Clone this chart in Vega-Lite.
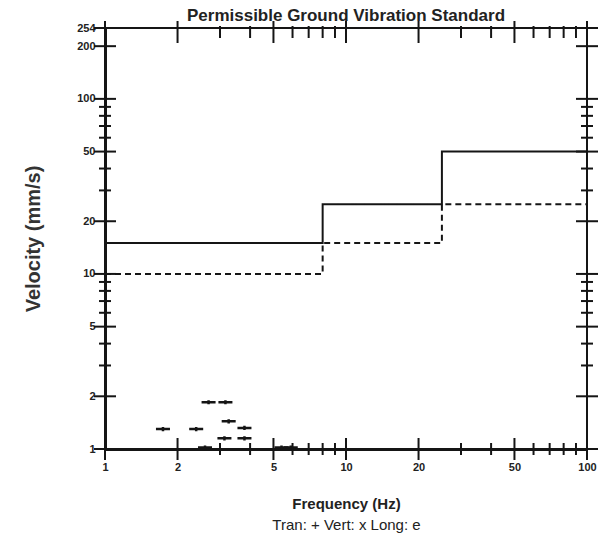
{
  "$schema": "https://vega.github.io/schema/vega-lite/v6.json",
  "width": 482,
  "height": 421,
  "autosize": {"type": "none"},
  "padding": {"left": 105, "top": 28, "right": 28, "bottom": 103},
  "background": "white",
  "config": {
    "view": {"stroke": "#151515", "strokeWidth": 2},
    "font": "Liberation Sans"
  },
  "title": {
    "text": "Permissible Ground Vibration Standard",
    "fontSize": 17,
    "fontWeight": "bold",
    "color": "#222",
    "anchor": "middle",
    "baseline": "alphabetic",
    "offset": 3,
    "dy": 20
  },
  "datasets": {
    "steps": [
      {"freq": 1, "vel": 15, "limit": "solid"},
      {"freq": 8, "vel": 25, "limit": "solid"},
      {"freq": 25, "vel": 50, "limit": "solid"},
      {"freq": 100, "vel": 50, "limit": "solid"},
      {"freq": 1, "vel": 10, "limit": "dashed"},
      {"freq": 8, "vel": 15, "limit": "dashed"},
      {"freq": 25, "vel": 25, "limit": "dashed"},
      {"freq": 100, "vel": 25, "limit": "dashed"}
    ],
    "points": [
      {"freq": 1.74, "vel": 1.3},
      {"freq": 2.39, "vel": 1.3},
      {"freq": 2.69, "vel": 1.85},
      {"freq": 3.16, "vel": 1.85},
      {"freq": 3.26, "vel": 1.44},
      {"freq": 3.13, "vel": 1.15},
      {"freq": 3.79, "vel": 1.32},
      {"freq": 3.79, "vel": 1.15},
      {"freq": 2.6, "vel": 1.02},
      {"freq": 5.4, "vel": 1.02},
      {"freq": 5.9, "vel": 1.02}
    ],
    "xticks": [
      {"v": 1, "kind": "major"}, {"v": 2, "kind": "major"}, {"v": 3, "kind": "minor"},
      {"v": 4, "kind": "minor"}, {"v": 5, "kind": "major"}, {"v": 6, "kind": "minor"},
      {"v": 7, "kind": "minor"}, {"v": 8, "kind": "minor"}, {"v": 9, "kind": "minor"},
      {"v": 10, "kind": "major"}, {"v": 20, "kind": "major"}, {"v": 30, "kind": "minor"},
      {"v": 40, "kind": "minor"}, {"v": 50, "kind": "major"}, {"v": 60, "kind": "minor"},
      {"v": 70, "kind": "minor"}, {"v": 80, "kind": "minor"}, {"v": 90, "kind": "minor"},
      {"v": 100, "kind": "major"}
    ],
    "yticks": [
      {"v": 1, "kind": "major"}, {"v": 2, "kind": "major"}, {"v": 3, "kind": "minor"},
      {"v": 4, "kind": "minor"}, {"v": 5, "kind": "major"}, {"v": 6, "kind": "minor"},
      {"v": 7, "kind": "minor"}, {"v": 8, "kind": "minor"}, {"v": 9, "kind": "minor"},
      {"v": 10, "kind": "major"}, {"v": 20, "kind": "major"}, {"v": 30, "kind": "minor"},
      {"v": 40, "kind": "minor"}, {"v": 50, "kind": "major"}, {"v": 60, "kind": "minor"},
      {"v": 70, "kind": "minor"}, {"v": 80, "kind": "minor"}, {"v": 90, "kind": "minor"},
      {"v": 100, "kind": "major"}, {"v": 200, "kind": "major"}, {"v": 254, "kind": "major"}
    ]
  },
  "resolve": {"axis": {"x": "independent", "y": "independent"}},
  "layer": [
    {
      "data": {"name": "steps"},
      "mark": {"type": "line", "interpolate": "step-after", "color": "#151515", "strokeWidth": 2},
      "encoding": {
        "x": {
          "field": "freq", "type": "quantitative",
          "scale": {"type": "log", "domain": [1, 100], "nice": false},
          "axis": {
            "orient": "bottom", "values": [1, 2, 5, 10, 20, 50, 100], "format": "d",
            "ticks": false, "tickSize": 0, "grid": false,
            "domain": true, "domainColor": "#151515", "domainWidth": 3,
            "labelFontSize": 11, "labelFontWeight": "bold", "labelColor": "#222",
            "labelPadding": 12, "labelFlush": false, "labelOverlap": false,
            "title": "Frequency (Hz)", "titleFontSize": 15, "titleFontWeight": "bold",
            "titleColor": "#222", "titlePadding": 24
          }
        },
        "y": {
          "field": "vel", "type": "quantitative",
          "scale": {"type": "log", "domain": [1, 254], "nice": false},
          "axis": {
            "orient": "left", "values": [1, 2, 5, 10, 20, 50, 100, 200, 254], "format": "d",
            "ticks": false, "tickSize": 0, "grid": false,
            "domain": true, "domainColor": "#151515", "domainWidth": 3,
            "labelFontSize": 11, "labelFontWeight": "bold", "labelColor": "#222",
            "labelPadding": 10, "labelFlush": false, "labelOverlap": false,
            "title": "Velocity (mm/s)", "titleFontSize": 20, "titleFontWeight": "bold",
            "titleColor": "#333", "titlePadding": 33
          }
        },
        "strokeDash": {
          "field": "limit", "type": "nominal",
          "scale": {"domain": ["solid", "dashed"], "range": [[1, 0], [6, 4]]},
          "legend": null
        }
      }
    },
    {
      "data": {"name": "points"},
      "mark": {"type": "point", "shape": "M-1,0L1,0M0,-0.3L0,0.3", "filled": false, "stroke": "#151515", "strokeWidth": 2.5, "size": 196, "opacity": 1},
      "encoding": {
        "x": {"field": "freq", "type": "quantitative", "scale": {"type": "log", "domain": [1, 100], "nice": false}, "axis": null},
        "y": {"field": "vel", "type": "quantitative", "scale": {"type": "log", "domain": [1, 254], "nice": false}, "axis": null}
      }
    },
    {
      "data": {"name": "xticks"},
      "mark": {"type": "tick", "orient": "vertical", "color": "#151515", "thickness": 2, "opacity": 1},
      "encoding": {
        "x": {"field": "v", "type": "quantitative", "scale": {"type": "log", "domain": [1, 100], "nice": false}, "axis": null},
        "y": {"datum": 1, "type": "quantitative", "scale": {"type": "log", "domain": [1, 254], "nice": false}, "axis": null},
        "size": {"field": "kind", "type": "ordinal", "scale": {"domain": ["major", "minor"], "range": [22, 12]}, "legend": null}
      }
    },
    {
      "data": {"name": "xticks"},
      "mark": {"type": "tick", "orient": "vertical", "color": "#151515", "thickness": 2, "opacity": 1, "yOffset": 4},
      "encoding": {
        "x": {
          "field": "v", "type": "quantitative", "scale": {"type": "log", "domain": [1, 100], "nice": false},
          "axis": {
            "orient": "top", "labels": false, "ticks": false, "domain": false, "grid": false,
            "title": "Tran: + Vert: x Long: e", "titleFontSize": 15, "titleFontWeight": "normal",
            "titleColor": "#222", "titleY": 496, "titleBaseline": "middle"
          }
        },
        "y": {"datum": 254, "type": "quantitative", "scale": {"type": "log", "domain": [1, 254], "nice": false}, "axis": null},
        "size": {"field": "kind", "type": "ordinal", "scale": {"domain": ["major", "minor"], "range": [15, 8]}, "legend": null}
      }
    },
    {
      "data": {"name": "yticks"},
      "mark": {"type": "tick", "orient": "horizontal", "color": "#151515", "thickness": 2, "opacity": 1},
      "encoding": {
        "x": {"datum": 1, "type": "quantitative", "scale": {"type": "log", "domain": [1, 100], "nice": false}, "axis": null},
        "y": {"field": "v", "type": "quantitative", "scale": {"type": "log", "domain": [1, 254], "nice": false}, "axis": null},
        "size": {"field": "kind", "type": "ordinal", "scale": {"domain": ["major", "minor"], "range": [22, 12]}, "legend": null}
      }
    },
    {
      "data": {"name": "yticks"},
      "mark": {"type": "tick", "orient": "horizontal", "color": "#151515", "thickness": 2, "opacity": 1},
      "encoding": {
        "x": {"datum": 100, "type": "quantitative", "scale": {"type": "log", "domain": [1, 100], "nice": false}, "axis": null},
        "y": {"field": "v", "type": "quantitative", "scale": {"type": "log", "domain": [1, 254], "nice": false}, "axis": null},
        "size": {"field": "kind", "type": "ordinal", "scale": {"domain": ["major", "minor"], "range": [22, 12]}, "legend": null}
      }
    }
  ]
}
